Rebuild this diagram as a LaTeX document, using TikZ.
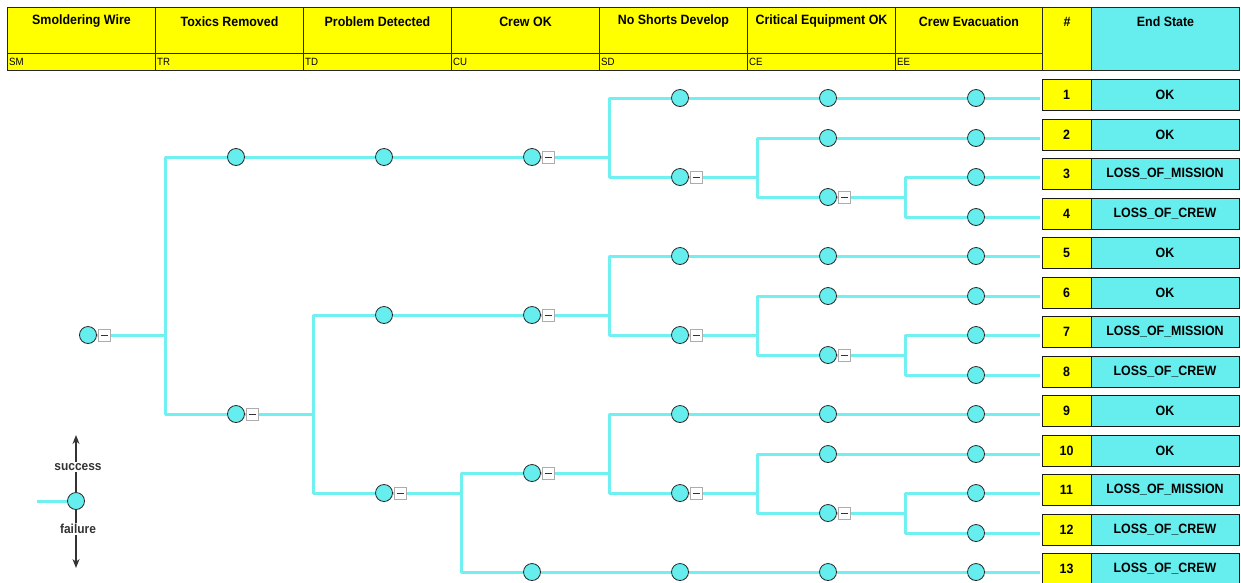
\documentclass[tikz,border=0pt]{standalone}
\usepackage{fontspec}
\setmainfont{Liberation Sans}[FakeStretch=0.92]
\usetikzlibrary{calc,arrows.meta}
\definecolor{cy}{HTML}{66EEEE}
\definecolor{cyl}{HTML}{70F0F0}
\definecolor{yl}{HTML}{FFFF00}
\definecolor{dk}{HTML}{333333}
\pgfdeclarelayer{bg}
\pgfsetlayers{bg,main}
\tikzset{
  ev/.style={circle, draw=black!85, fill=cy, minimum size=17pt, inner sep=0pt, line width=0.8pt},
  mb/.style={rectangle, draw=gray!65, fill=white, minimum size=12pt, inner sep=0pt, line width=0.8pt,
    path picture={\draw[line width=1pt,black!80] ([xshift=-3.5pt]path picture bounding box.center) -- ([xshift=3.5pt]path picture bounding box.center);}},
  ln/.style={draw=cyl, line width=3pt, line join=round},
  hcell/.style={rectangle, draw=black!85, fill=yl, line width=1pt, inner sep=0pt, anchor=north west},
  htitle/.style={font=\bfseries\fontsize{13.5}{15}\selectfont, inner sep=0pt},
  hcode/.style={font=\fontsize{10.5}{12}\selectfont, inner sep=0pt, anchor=west},
  numbox/.style={rectangle, draw=black!90, fill=yl, line width=1pt, minimum width=49pt, minimum height=31pt, inner sep=0pt, font=\bfseries\fontsize{13.5}{15}\selectfont},
  esbox/.style={rectangle, draw=black!90, fill=cy, line width=1pt, minimum width=148pt, minimum height=31pt, inner sep=0pt, font=\bfseries\fontsize{13.5}{15}\selectfont},
  arr/.style={draw=dk, line width=1.6pt, -{Stealth[length=9pt,width=7pt]}},
  leg/.style={font=\bfseries\fontsize{13}{15}\selectfont, text=dk, fill=white, inner sep=1pt}
}
\begin{document}
\begin{tikzpicture}[x=1pt,y=-1pt]
\useasboundingbox (0,0) rectangle (1241,582);
% header
\foreach \i/\x/\w/\t/\c in {1/7/148/Smoldering Wire/SM, 2/155/148/Toxics Removed/TR, 3/303/148/Problem Detected/TD, 4/451/148/Crew OK/CU, 5/599/148/No Shorts Develop/SD, 6/747/148/Critical Equipment OK/CE, 7/895/147/Crew Evacuation/EE} {
  \node[hcell, minimum width=\w pt, minimum height=46pt] (hT\i) at (\x,7) {};
  \node[hcell, minimum width=\w pt, minimum height=17pt] (hC\i) at (\x,53) {};
  \node[htitle] (ht\i) at ($(hT\i.north)+(0,14.5)$) {\t};
  \node[hcode] (hc\i) at (\x+2,61.5) {\c};
}
\node[hcell, minimum width=49pt, minimum height=63pt] (hN) at (1042,7) {};
\node[htitle] (hNt) at ($(hN.north)+(0,14.5)$) {\#};
\node[hcell, fill=cy, minimum width=148pt, minimum height=63pt] (hE) at (1091,7) {};
\node[htitle] (hEt) at ($(hE.north)+(0,14.5)$) {End State};

% event nodes
\node[ev] (sm) at (88,335) {};
\node[ev] (trA) at (236,157) {};
\node[ev] (trB) at (236,414) {};
\node[ev] (tdA) at (384,157) {};
\node[ev] (tdB) at (384,315) {};
\node[ev] (tdC) at (384,493) {};
\node[ev] (cuA) at (532,157) {};
\node[ev] (cuB) at (532,315) {};
\node[ev] (cuC) at (532,473) {};
\node[ev] (cuD) at (532,572) {};
\node[ev] (sdA) at (680,98) {};
\node[ev] (sdB) at (680,177) {};
\node[ev] (sdC) at (680,256) {};
\node[ev] (sdD) at (680,335) {};
\node[ev] (sdE) at (680,414) {};
\node[ev] (sdF) at (680,493) {};
\node[ev] (sdG) at (680,572) {};
\node[ev] (ceA) at (828,98) {};
\node[ev] (ceB) at (828,138) {};
\node[ev] (ceC) at (828,197) {};
\node[ev] (ceD) at (828,256) {};
\node[ev] (ceE) at (828,296) {};
\node[ev] (ceF) at (828,355) {};
\node[ev] (ceG) at (828,414) {};
\node[ev] (ceH) at (828,454) {};
\node[ev] (ceI) at (828,513) {};
\node[ev] (ceJ) at (828,572) {};
% minus boxes
\foreach \n in {sm,trB,tdC,cuA,cuB,cuC,sdB,sdD,sdF,ceC,ceF,ceI} {
  \node[mb] (m\n) at ($(\n)+(16,0)$) {};
}
% end events, number boxes and end states
\foreach \i/\y/\s in {1/98/OK, 2/138/OK, 3/177/LOSS\_OF\_MISSION, 4/217/LOSS\_OF\_CREW, 5/256/OK, 6/296/OK, 7/335/LOSS\_OF\_MISSION, 8/375/LOSS\_OF\_CREW, 9/414/OK, 10/454/OK, 11/493/LOSS\_OF\_MISSION, 12/533/LOSS\_OF\_CREW, 13/572/LOSS\_OF\_CREW} {
  \node[ev] (ee\i) at (976,\y) {};
  \node[numbox] (n\i) at (1066.5,\y-3.5) {\i};
  \node[esbox] (es\i) at (1165,\y-3.5) {\s};
  \begin{pgfonlayer}{bg}
    \draw[ln] (ee\i) -- ($(ee\i -| n\i.west)+(-2,0)$);
  \end{pgfonlayer}
}
% branch points
\coordinate (b0) at (165,335);
\coordinate (b1) at (313,414);
\coordinate (b2) at (461,493);
\coordinate (b3) at (609,157);
\coordinate (b4) at (609,315);
\coordinate (b5) at (609,473);
\coordinate (b6) at (757,177);
\coordinate (b7) at (757,335);
\coordinate (b8) at (757,493);
\coordinate (b9) at (905,197);
\coordinate (b10) at (905,355);
\coordinate (b11) at (905,513);

% legend
\node[ev] (legC) at (76,501) {};
\coordinate (legL) at (37,501);
\coordinate (legT) at (76,435);
\coordinate (legB) at (76,568);
\node[leg] (legS) at (78,467) {success};
\node[leg] (legF) at (78,529) {failure};

\begin{pgfonlayer}{bg}
  % parents to branch points
  \foreach \p/\b in {sm/b0, trB/b1, tdC/b2, cuA/b3, cuB/b4, cuC/b5, sdB/b6, sdD/b7, sdF/b8, ceC/b9, ceF/b10, ceI/b11}
    \draw[ln] (\p) -- (\b);
  % children from branch points
  \foreach \c/\b in {trA/b0, trB/b0, tdB/b1, tdC/b1, cuC/b2, cuD/b2, sdA/b3, sdB/b3, sdC/b4, sdD/b4, sdE/b5, sdF/b5, ceB/b6, ceC/b6, ceE/b7, ceF/b7, ceH/b8, ceI/b8, ee3/b9, ee4/b9, ee7/b10, ee8/b10, ee11/b11, ee12/b11}
    \draw[ln] (\c) -| (\b);
  % straight runs
  \draw[ln] (trA) -- (tdA) -- (cuA);
  \draw[ln] (tdB) -- (cuB);
  \draw[ln] (sdA) -- (ceA) -- (ee1);
  \draw[ln] (ceB) -- (ee2);
  \draw[ln] (sdC) -- (ceD) -- (ee5);
  \draw[ln] (ceE) -- (ee6);
  \draw[ln] (sdE) -- (ceG) -- (ee9);
  \draw[ln] (ceH) -- (ee10);
  \draw[ln] (cuD) -- (sdG) -- (ceJ) -- (ee13);
  % legend
  \draw[ln] (legL) -- (legC);
  \draw[arr] (legC) -- (legT);
  \draw[arr] (legC) -- (legB);
\end{pgfonlayer}
\end{tikzpicture}
\end{document}
